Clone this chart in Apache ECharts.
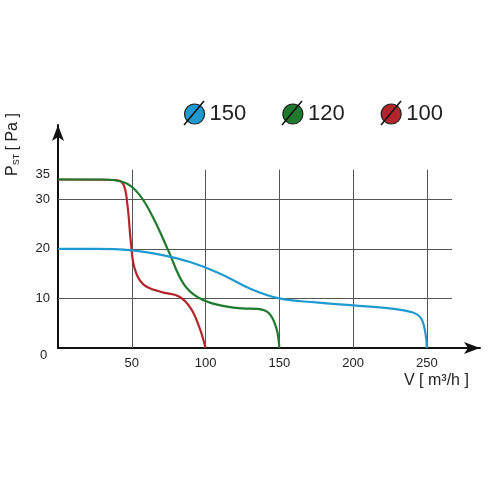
<!doctype html>
<html>
<head>
<meta charset="UTF-8">
<script src="https://cdn.jsdelivr.net/npm/echarts@6/dist/echarts.min.js"></script>
<style>html,body{margin:0;background:#fff}#c{width:488px;height:488px}</style>
</head>
<body>
<div id="c"></div>
<script>
var names = ['150', '120', '100'];
var colors = ['#1e9ad0', '#1f7a2e', '#b4252b'];
var d150 = [[0,20],[25,20],[50,19.7],[70,18.8],[90,17.3],[110,15],[130,12],[150,10],[175,9.2],[200,8.6],[225,8],[240,7.2],[246,6],[249,3],[250,0]];
var d120 = [[0,34],[30,34],[45,33.4],[55,31],[65,26],[75,19.5],[85,13],[95,10.2],[110,8.6],[125,8],[135,7.9],[143,7],[148,4],[150,0]];
var d100 = [[0,34],[38,33.9],[44,33.2],[47,29],[49.5,21],[52,16],[58,12.8],[70,11.3],[82,10.4],[90,8],[96,4],[100,0]];
var xTicks = [50, 100, 150, 200, 250];
var yTicks = [10, 20, 30, 35];
var gridTop = 36, gridRight = 267;

var gridLines = [];
xTicks.forEach(function (x) { gridLines.push([{coord: [x, 0]}, {coord: [x, gridTop]}]); });
[10, 20, 30].forEach(function (y) { gridLines.push([{coord: [0, y]}, {coord: [gridRight, y]}]); });

var font = 'Liberation Sans, Arial, sans-serif';
var chart = echarts.init(document.getElementById('c'));
var series = [d150, d120, d100].map(function (d, i) {
  return {
    name: names[i], type: 'line', data: d, smooth: 0.4, showSymbol: false,
    lineStyle: {color: colors[i], width: 2.2}, itemStyle: {color: colors[i]}, z: 3 - i + 2
  };
});
series[0].markLine = {
  silent: true, symbol: 'none', label: {show: false},
  lineStyle: {color: '#555', width: 1, type: 'solid'}, data: gridLines, z: 1
};
chart.setOption({
  animation: false,
  grid: {left: 58, right: 8, top: 125, bottom: 140},
  legend: {
    data: names, left: 179, top: 98, icon: 'circle', itemWidth: 20, itemHeight: 20,
    itemGap: 36, itemStyle: {borderColor: '#222', borderWidth: 1.2},
    textStyle: {fontSize: 22, color: '#222', fontFamily: font, padding: [0, 0, 0, 0]}
  },
  xAxis: {
    type: 'value', min: 0, max: 286, interval: 50,
    axisLine: {lineStyle: {color: '#111', width: 2}, symbol: ['none', 'arrow'], symbolSize: [9, 16]},
    axisTick: {show: false}, splitLine: {show: false},
    axisLabel: {showMaxLabel: false, fontSize: 13, color: '#222', fontFamily: font, margin: 9,
      formatter: function (v) { return v === 0 ? '' : v; }}
  },
  yAxis: {
    type: 'value', min: 0, max: 45, interval: 5,
    axisLine: {show: true, lineStyle: {color: '#111', width: 2}, symbol: ['none', 'arrow'], symbolSize: [9, 16]},
    axisTick: {show: false}, splitLine: {show: false},
    axisLabel: {fontSize: 13, color: '#222', fontFamily: font, margin: 8,
      formatter: function (v) { return yTicks.indexOf(v) >= 0 ? v : ''; }}
  },
  graphic: [
    {type: 'text', left: 40, top: 349, style: {text: '0', fontSize: 13, fill: '#222', fontFamily: font}},
    {type: 'text', left: 404, top: 373, style: {text: 'V [ m³/h ]', fontSize: 16, fill: '#222', fontFamily: font}},
    {type: 'text', x: 4, y: 176, rotation: Math.PI / 2, style: {
      text: '{p|P}{s|ST} {p|[ Pa ]}', fill: '#222', fontFamily: font,
      rich: {p: {fontSize: 16, fontFamily: font}, s: {fontSize: 9, fontFamily: font, verticalAlign: 'bottom', padding: [8, 0, 0, 0]}}
    }},
    {type: 'line', shape: {x1: 184, y1: 125, x2: 204, y2: 101}, style: {stroke: '#111', lineWidth: 1.5}, z: 100},
    {type: 'line', shape: {x1: 282, y1: 125, x2: 302, y2: 101}, style: {stroke: '#111', lineWidth: 1.5}, z: 100},
    {type: 'line', shape: {x1: 381, y1: 125, x2: 401, y2: 101}, style: {stroke: '#111', lineWidth: 1.5}, z: 100}
  ],
  series: series
});
</script>
</body>
</html>
